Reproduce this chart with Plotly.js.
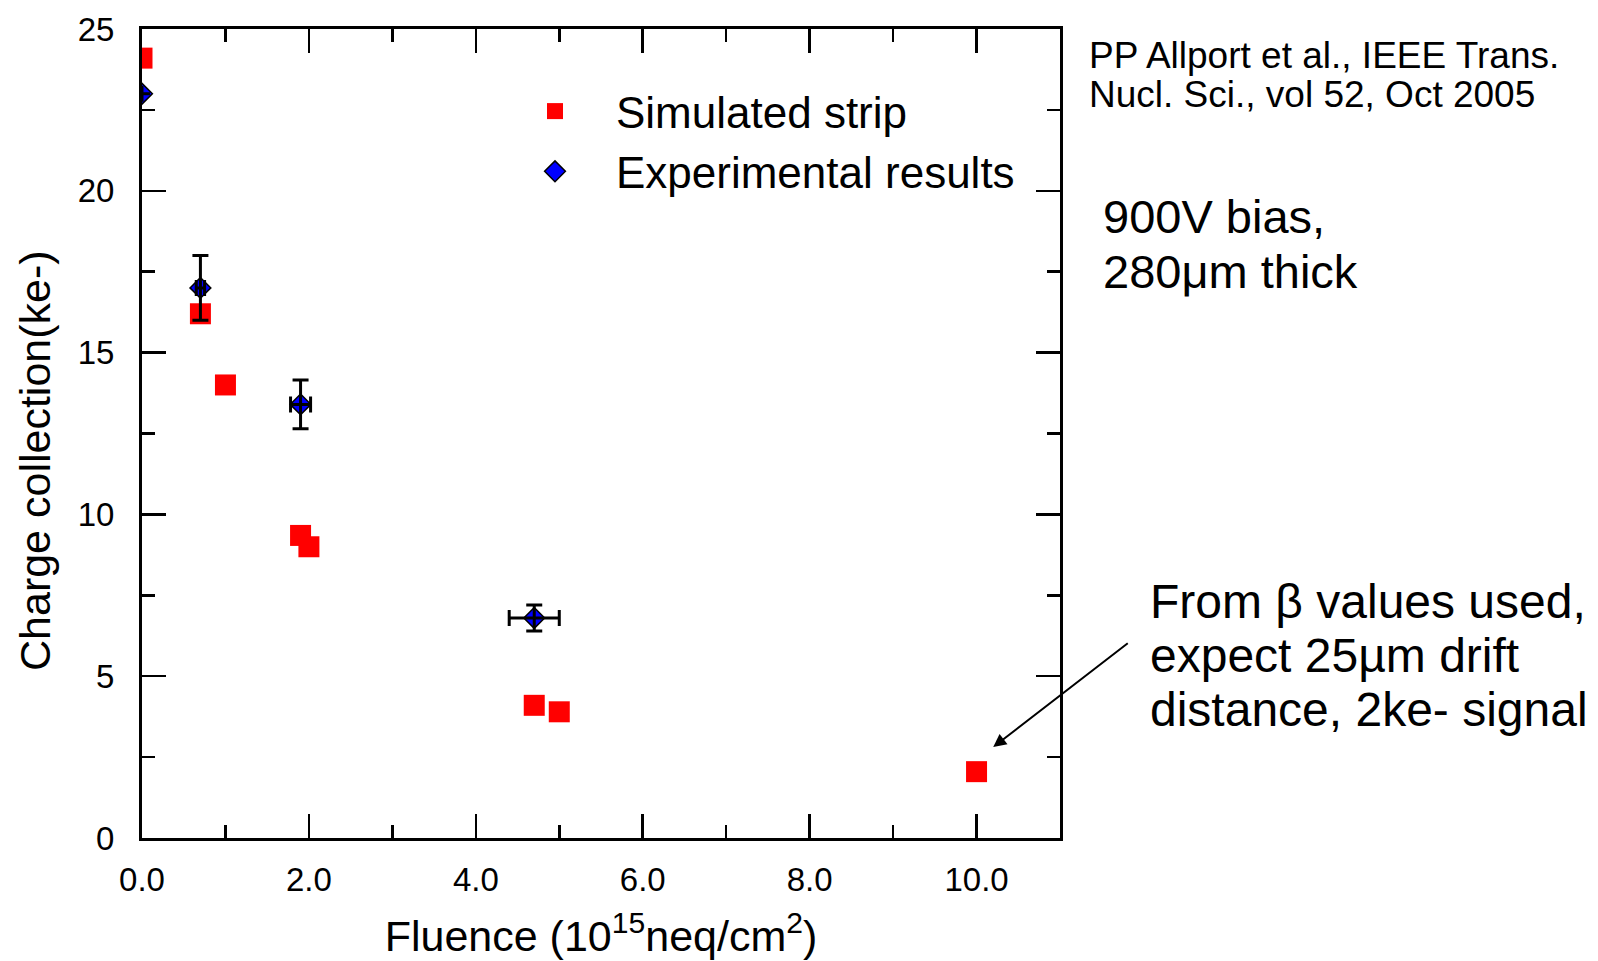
<!DOCTYPE html>
<html>
<head>
<meta charset="utf-8">
<script src="https://cdn.plot.ly/plotly-3.0.1.min.js"></script>
<style>
  html, body { margin: 0; padding: 0; background: #ffffff; }
  #chart { width: 1598px; height: 961px; }
</style>
</head>
<body>
<div id="chart"></div>
<script>
// ---- data ----
var simFluence = [0.0, 0.7, 1.0, 1.9, 2.0, 4.7, 5.0, 10.0];
var simCharge  = [24.1, 16.2, 14.0, 9.35, 9.0, 4.1, 3.9, 2.05];

var expFluence    = [0.0, 0.7, 1.9, 4.7];
var expCharge     = [23.0, 17.0, 13.4, 6.8];
var expChargeErr  = [null, 1.0, 0.75, 0.4];
var expFluenceErr = [null, 0.05, 0.12, 0.3];

var seriesNames = ['Simulated strip', 'Experimental results'];
var xTickValues = [0, 2, 4, 6, 8, 10];
var yTickValues = [0, 5, 10, 15, 20, 25];

var FONT = 'Liberation Sans, Arial, Helvetica, sans-serif';

var W = 1598, H = 961;
var M = {l: 142, r: 538, t: 29, b: 123};
var PW = W - M.l - M.r, PH = H - M.t - M.b;
function px(x) { return (x - M.l) / PW; }
function py(y) { return (H - M.b - y) / PH; }

var traces = [
  {
    x: simFluence, y: simCharge, name: seriesNames[0],
    type: 'scatter', mode: 'markers',
    marker: {symbol: 'square', size: 21, color: '#ff0000', line: {width: 0}}
  },
  {
    x: expFluence, y: expCharge, name: seriesNames[1],
    type: 'scatter', mode: 'markers',
    marker: {symbol: 'diamond', size: 16, color: '#0000ff', line: {width: 1.5, color: '#000000'}}
  },
  {
    // error bars drawn on top of the markers, as in the reference
    x: expFluence, y: expCharge, name: seriesNames[1],
    type: 'scatter', mode: 'markers', showlegend: false, hoverinfo: 'skip',
    marker: {size: 1, opacity: 0},
    error_y: {type: 'data', array: expChargeErr, visible: true, color: '#000000', thickness: 3, width: 8},
    error_x: {type: 'data', array: expFluenceErr, visible: true, color: '#000000', thickness: 3, width: 8}
  }
];

var axisCommon = {
  showgrid: false, zeroline: false,
  showline: true, linecolor: '#000000', linewidth: 3,
  mirror: 'ticks',
  ticks: 'inside', ticklen: 24, tickwidth: 2.5, tickcolor: '#000000',
  tickfont: {family: FONT, size: 33, color: '#000000'}
};

var layout = {
  width: W, height: H,
  margin: M,
  paper_bgcolor: '#ffffff', plot_bgcolor: '#ffffff',
  font: {family: FONT, color: '#000000'},
  showlegend: true,
  legend: {
    x: px(494), y: py(76), xanchor: 'left', yanchor: 'top',
    bgcolor: 'rgba(0,0,0,0)', borderwidth: 0,
    itemwidth: 112,
    font: {family: FONT, size: 44, color: '#000000'}
  },
  xaxis: Object.assign({}, axisCommon, {
    range: [0, 11], tickmode: 'array', tickvals: xTickValues, tickformat: '.1f',
    ticklabelstandoff: 10,
    minor: {dtick: 1, ticks: 'inside', ticklen: 13, tickwidth: 2.5, tickcolor: '#000000', showgrid: false},
    title: {text: 'Fluence (10<sup>15</sup>neq/cm<sup>2</sup>)', font: {family: FONT, size: 43, color: '#000000'}, standoff: 25}
  }),
  yaxis: Object.assign({}, axisCommon, {
    range: [0, 25], tickmode: 'array', tickvals: yTickValues,
    ticklabelstandoff: 18,
    minor: {dtick: 2.5, ticks: 'inside', ticklen: 13, tickwidth: 2.5, tickcolor: '#000000', showgrid: false}
  }),
  annotations: [
    // y-axis title (placed as in the reference, slightly below the plot centre)
    {xref: 'paper', yref: 'paper', x: px(35), y: py(461), xanchor: 'center', yanchor: 'middle', showarrow: false,
     textangle: -90, text: 'Charge collection(ke-)', font: {family: FONT, size: 43, color: '#000000'}},
    {xref: 'paper', yref: 'paper', x: px(1087), y: py(55), xanchor: 'left', yanchor: 'middle', showarrow: false,
     text: 'PP Allport et al., IEEE Trans.', font: {family: FONT, size: 37, color: '#000000'}},
    {xref: 'paper', yref: 'paper', x: px(1087), y: py(95), xanchor: 'left', yanchor: 'middle', showarrow: false,
     text: 'Nucl. Sci., vol 52, Oct 2005', font: {family: FONT, size: 37, color: '#000000'}},
    {xref: 'paper', yref: 'paper', x: px(1101), y: py(216), xanchor: 'left', yanchor: 'middle', showarrow: false,
     text: '900V bias,', font: {family: FONT, size: 47, color: '#000000'}},
    {xref: 'paper', yref: 'paper', x: px(1101), y: py(271), xanchor: 'left', yanchor: 'middle', showarrow: false,
     text: '280μm thick', font: {family: FONT, size: 47, color: '#000000'}},
    {xref: 'paper', yref: 'paper', x: px(1148), y: py(601), xanchor: 'left', yanchor: 'middle', showarrow: false,
     text: 'From β values used,', font: {family: FONT, size: 48, color: '#000000'}},
    {xref: 'paper', yref: 'paper', x: px(1148), y: py(655), xanchor: 'left', yanchor: 'middle', showarrow: false,
     text: 'expect 25µm drift', font: {family: FONT, size: 48, color: '#000000'}},
    {xref: 'paper', yref: 'paper', x: px(1148), y: py(709), xanchor: 'left', yanchor: 'middle', showarrow: false,
     text: 'distance, 2ke- signal', font: {family: FONT, size: 48, color: '#000000'}},
    {xref: 'x', yref: 'y', x: 10.2, y: 2.81, ax: 136, ay: -105, text: '',
     showarrow: true, arrowhead: 2, arrowsize: 1.3, arrowwidth: 2, arrowcolor: '#000000', standoff: 0}
  ]
};

Plotly.newPlot('chart', traces, layout, {displayModeBar: false, responsive: false, staticPlot: true});
</script>
</body>
</html>
